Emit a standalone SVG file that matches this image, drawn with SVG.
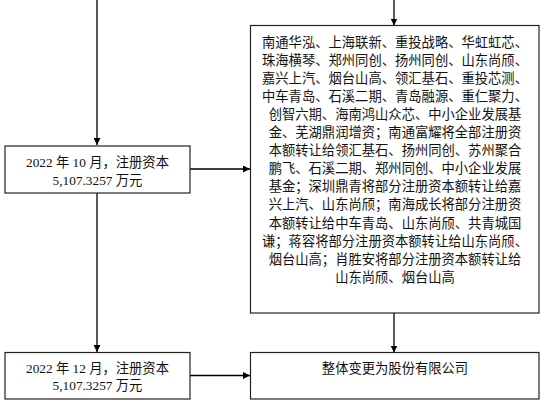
<svg xmlns="http://www.w3.org/2000/svg" width="548" height="406" viewBox="0 0 548 406">
<defs>
<marker id="ah" viewBox="0 0 10 10" refX="10" refY="5" markerWidth="7" markerHeight="7" markerUnits="userSpaceOnUse" orient="auto">
<path d="M0,0 L10,5 L0,10 z" fill="#000"/>
</marker>
</defs>
<style>
.box{fill:#fff;stroke:#222;stroke-width:1.2}
.t{font-family:"Liberation Serif","Noto Sans CJK SC",serif;font-size:13.3px;fill:#111;text-anchor:middle}
.ln{stroke:#000;stroke-width:1.3;fill:none}
</style>
<rect width="548" height="406" fill="#fff"/>
<g id="connectors">
<line class="ln" x1="97" y1="0" x2="97" y2="145" marker-end="url(#ah)"/>
<line class="ln" x1="97" y1="193" x2="97" y2="352" marker-end="url(#ah)"/>
<line class="ln" x1="394" y1="0" x2="394" y2="25.5" marker-end="url(#ah)"/>
<line class="ln" x1="190" y1="169" x2="250" y2="169" marker-end="url(#ah)"/>
<line class="ln" x1="190" y1="375.5" x2="250" y2="375.5" marker-end="url(#ah)"/>
<line class="ln" x1="394" y1="313" x2="394" y2="352.5" marker-end="url(#ah)"/>
</g>
<g id="n1">
<rect class="box" x="5" y="146" width="185" height="47"/>
<text class="t" x="97.5" y="166.5">2022 年 10 月，注册资本</text>
<text class="t" x="97.5" y="184.5">5,107.3257 万元</text>
</g>
<g id="n2">
<rect class="box" x="250.5" y="25.5" width="288.5" height="287.5"/>
<text class="t" x="395" y="46.5">南通华泓、上海联新、重投战略、华虹虹芯、</text>
<text class="t" x="395" y="64.6">珠海横琴、郑州同创、扬州同创、山东尚颀、</text>
<text class="t" x="395" y="82.7">嘉兴上汽、烟台山高、领汇基石、重投芯测、</text>
<text class="t" x="395" y="100.8">中车青岛、石溪二期、青岛融源、重仁聚力、</text>
<text class="t" x="395" y="118.9">创智六期、海南鸿山众芯、中小企业发展基</text>
<text class="t" x="395" y="137">金、芜湖鼎润增资；南通富耀将全部注册资</text>
<text class="t" x="395" y="155.1">本额转让给领汇基石、扬州同创、苏州聚合</text>
<text class="t" x="395" y="173.2">鹏飞、石溪二期、郑州同创、中小企业发展</text>
<text class="t" x="395" y="191.3">基金；深圳鼎青将部分注册资本额转让给嘉</text>
<text class="t" x="395" y="209.4">兴上汽、山东尚颀；南海成长将部分注册资</text>
<text class="t" x="395" y="227.5">本额转让给中车青岛、山东尚颀、共青城国</text>
<text class="t" x="395" y="245.6">谦；蒋容将部分注册资本额转让给山东尚颀、</text>
<text class="t" x="395" y="263.7">烟台山高；肖胜安将部分注册资本额转让给</text>
<text class="t" x="395" y="281.8">山东尚颀、烟台山高</text>
</g>
<g id="n3">
<rect class="box" x="5" y="352.5" width="185" height="46.5"/>
<text class="t" x="97.5" y="372.5">2022 年 12 月，注册资本</text>
<text class="t" x="97.5" y="390">5,107.3257 万元</text>
</g>
<g id="n4">
<rect class="box" x="250.5" y="352.5" width="288.5" height="46.5"/>
<text class="t" x="395" y="373">整体变更为股份有限公司</text>
</g>
</svg>
